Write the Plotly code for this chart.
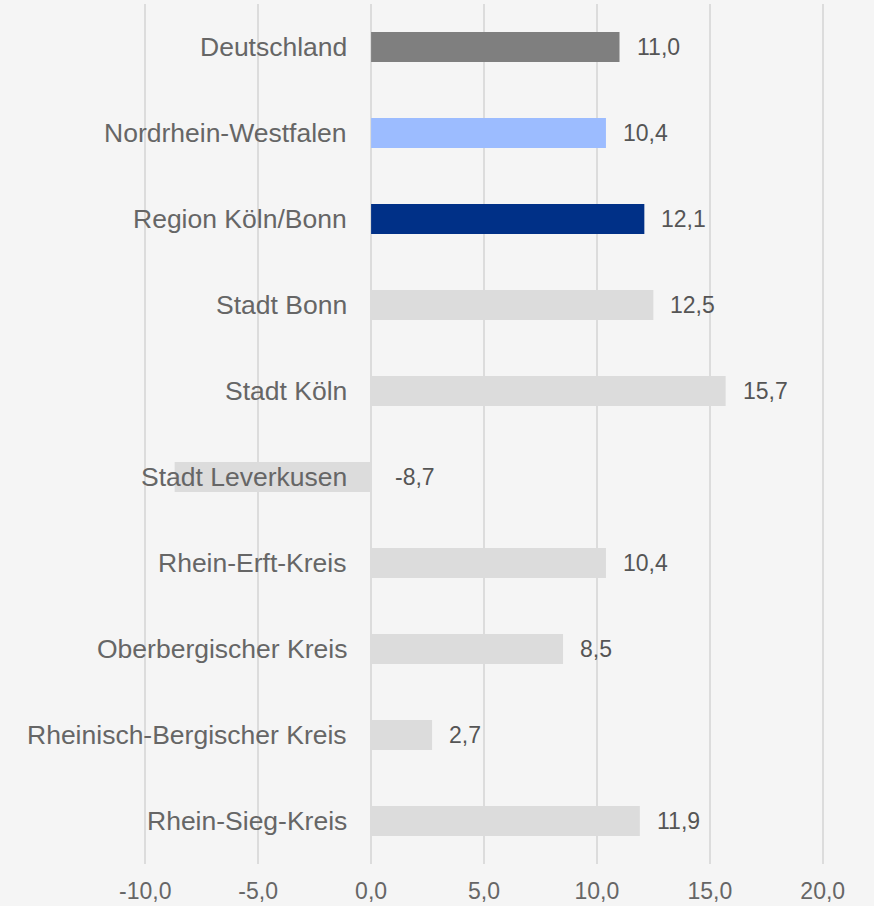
import plotly.graph_objects as go

categories = ["Deutschland", "Nordrhein-Westfalen", "Region Köln/Bonn", "Stadt Bonn",
              "Stadt Köln", "Stadt Leverkusen", "Rhein-Erft-Kreis", "Oberbergischer Kreis",
              "Rheinisch-Bergischer Kreis", "Rhein-Sieg-Kreis"]
values = [11.0, 10.4, 12.1, 12.5, 15.7, -8.7, 10.4, 8.5, 2.7, 11.9]
colors = ["#7f7f7f", "#9cbcff", "#003087", "#dcdcdc", "#dcdcdc", "#dcdcdc",
          "#dcdcdc", "#dcdcdc", "#dcdcdc", "#dcdcdc"]
tick_vals = [-10, -5, 0, 5, 10, 15, 20]
tick_text = ["-10,0", "-5,0", "0,0", "5,0", "10,0", "15,0", "20,0"]

FONT = "Liberation Sans, Arial, sans-serif"
CAT_GREY = "#666666"
VAL_GREY = "#555555"

fig = go.Figure()
fig.add_trace(go.Bar(
    x=values, y=categories, orientation="h",
    marker=dict(color=colors, line=dict(width=0)),
    hoverinfo="x+y",
))

annotations = []
for c, v in zip(categories, values):
    annotations.append(dict(
        x=0, y=c, xref="x", yref="y", text=c, showarrow=False,
        xanchor="right", yanchor="middle", xshift=-22,
        font=dict(family=FONT, size=26.5, color=CAT_GREY),
    ))
    annotations.append(dict(
        x=max(v, 0), y=c, xref="x", yref="y",
        text=f"{v:.1f}".replace(".", ","), showarrow=False,
        xanchor="left", yanchor="middle", xshift=(15 if v >= 0 else 22),
        font=dict(family=FONT, size=23, color=VAL_GREY),
    ))

fig.update_layout(
    width=874, height=906,
    margin=dict(l=143, r=49, t=4, b=42, autoexpand=False),
    paper_bgcolor="#f5f5f5", plot_bgcolor="#f5f5f5",
    bargap=0.65, showlegend=False,
    annotations=annotations,
    font=dict(family=FONT, color=CAT_GREY),
    xaxis=dict(
        range=[-10.1, 20.1], tickvals=tick_vals, ticktext=tick_text,
        showgrid=True, gridcolor="#dcdcdc", gridwidth=1.5,
        zeroline=False, showline=False, automargin=False,
        ticks="outside", ticklen=6, tickcolor="rgba(0,0,0,0)",
        tickfont=dict(family=FONT, size=23, color=CAT_GREY),
        fixedrange=True,
    ),
    yaxis=dict(
        autorange="reversed", showticklabels=False, showgrid=False,
        zeroline=False, showline=False, fixedrange=True, automargin=False,
    ),
)

fig.write_html(
    "out.html",
    config={"displayModeBar": False},
    post_script="document.body.style.margin='0';document.body.style.background='#f5f5f5';",
)
